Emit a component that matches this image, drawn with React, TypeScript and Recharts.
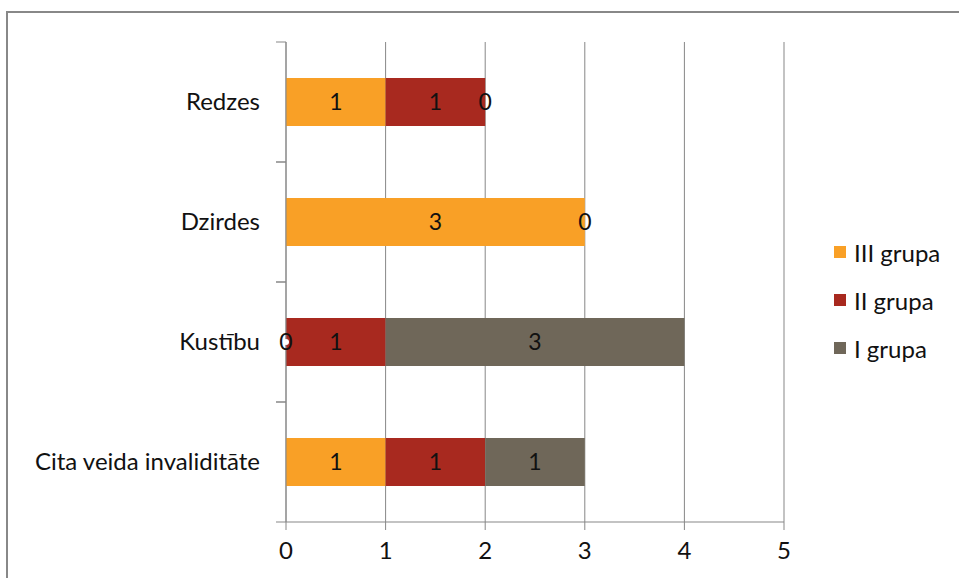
import React from 'react';
import {
  ComposedChart,
  Bar,
  Line,
  XAxis,
  YAxis,
  CartesianGrid,
  Legend,
  LabelList,
} from 'recharts';

const categories = ['Redzes', 'Dzirdes', 'Kustību', 'Cita veida invaliditāte'];
const grupa3 = [1, 3, 0, 1];
const grupa2 = [1, null, 1, 1];
const grupa1 = [0, 0, 3, 1];
const xTicks = [0, 1, 2, 3, 4, 5];

const SERIES = [
  { key: 'g3', name: 'III grupa', color: '#F9A026', values: grupa3 },
  { key: 'g2', name: 'II grupa', color: '#A8291F', values: grupa2 },
  { key: 'g1', name: 'I grupa', color: '#6F6759', values: grupa1 },
];

const FONT = 'Lato, "Open Sans", sans-serif';
const AXIS = '#878787';
const TEXT = '#111';

// zero-valued segments have no width, so their "0" label is placed by a hidden line
// at the running total of the stack
const chartData = categories.map((name, i) => {
  const row: any = { name };
  let total = 0;
  SERIES.forEach((s) => {
    const v = s.values[i];
    row[s.key] = v;
    row[`${s.key}_zero`] = v === 0 ? total : null;
    total += v ?? 0;
  });
  return row;
});

function CategoryTick(props: any) {
  const { x, y, payload } = props;
  const half = 60;
  return (
    <g>
      <text x={x} y={y} dy={8} textAnchor="end" fontSize={24} fill={TEXT} fontFamily={FONT}>
        {payload.value}
      </text>
      <line x1={x + 16} x2={x + 26} y1={y - half} y2={y - half} stroke={AXIS} />
      <line x1={x + 16} x2={x + 26} y1={y + half} y2={y + half} stroke={AXIS} />
    </g>
  );
}

function ZeroLabel(props: any) {
  const { x, y, value } = props;
  if (value == null) return null;
  return (
    <text x={x} y={y} dy={8} textAnchor="middle" fontSize={23} fill={TEXT} fontFamily={FONT}>
      0
    </text>
  );
}

function LegendBox() {
  return (
    <div style={{ fontFamily: FONT, fontSize: 24, color: TEXT }}>
      {SERIES.map((s) => (
        <div key={s.key} style={{ display: 'flex', alignItems: 'center', height: 48 }}>
          <span style={{ width: 12, height: 12, background: s.color, marginRight: 8 }} />
          {s.name}
        </div>
      ))}
    </div>
  );
}

export default function App() {
  return (
    <div
      style={{
        position: 'fixed',
        left: 0,
        top: 0,
        width: 959,
        height: 578,
        overflow: 'hidden',
        background: '#fff',
      }}
    >
      <div style={{ position: 'absolute', left: 6, top: 11, width: 953, height: 2, background: '#888' }} />
      <div style={{ position: 'absolute', left: 6, top: 11, width: 2, height: 567, background: '#888' }} />
      <div style={{ position: 'absolute', left: 0, top: 0 }}>
        <ComposedChart
          width={959}
          height={578}
          data={chartData}
          layout="vertical"
          barCategoryGap="30%"
          margin={{ top: 42, right: 175, left: 10, bottom: 26 }}
        >
          <CartesianGrid horizontal={false} stroke={AXIS} />
          <XAxis
            type="number"
            domain={[0, 5]}
            ticks={xTicks}
            stroke={AXIS}
            tickSize={8}
            tickMargin={12}
            tick={{ fontSize: 24, fill: TEXT, fontFamily: FONT }}
            interval={0}
          />
          <YAxis
            type="category"
            dataKey="name"
            width={276}
            stroke={AXIS}
            tickSize={0}
            tickMargin={26}
            tick={<CategoryTick />}
            interval={0}
          />
          <Legend
            layout="vertical"
            align="center"
            verticalAlign="middle"
            content={<LegendBox />}
            wrapperStyle={{ left: 834, top: 228, width: 130 }}
          />
          {SERIES.map((s) => (
            <Bar key={s.key} dataKey={s.key} name={s.name} stackId="a" fill={s.color} isAnimationActive={false}>
              <LabelList dataKey={s.key} position="center" fontSize={23} fill={TEXT} fontFamily={FONT} />
            </Bar>
          ))}
          {SERIES.map((s) => (
            <Line
              key={`${s.key}_zero`}
              dataKey={`${s.key}_zero`}
              stroke="none"
              dot={false}
              activeDot={false}
              legendType="none"
              isAnimationActive={false}
              label={<ZeroLabel />}
            />
          ))}
        </ComposedChart>
      </div>
    </div>
  );
}
